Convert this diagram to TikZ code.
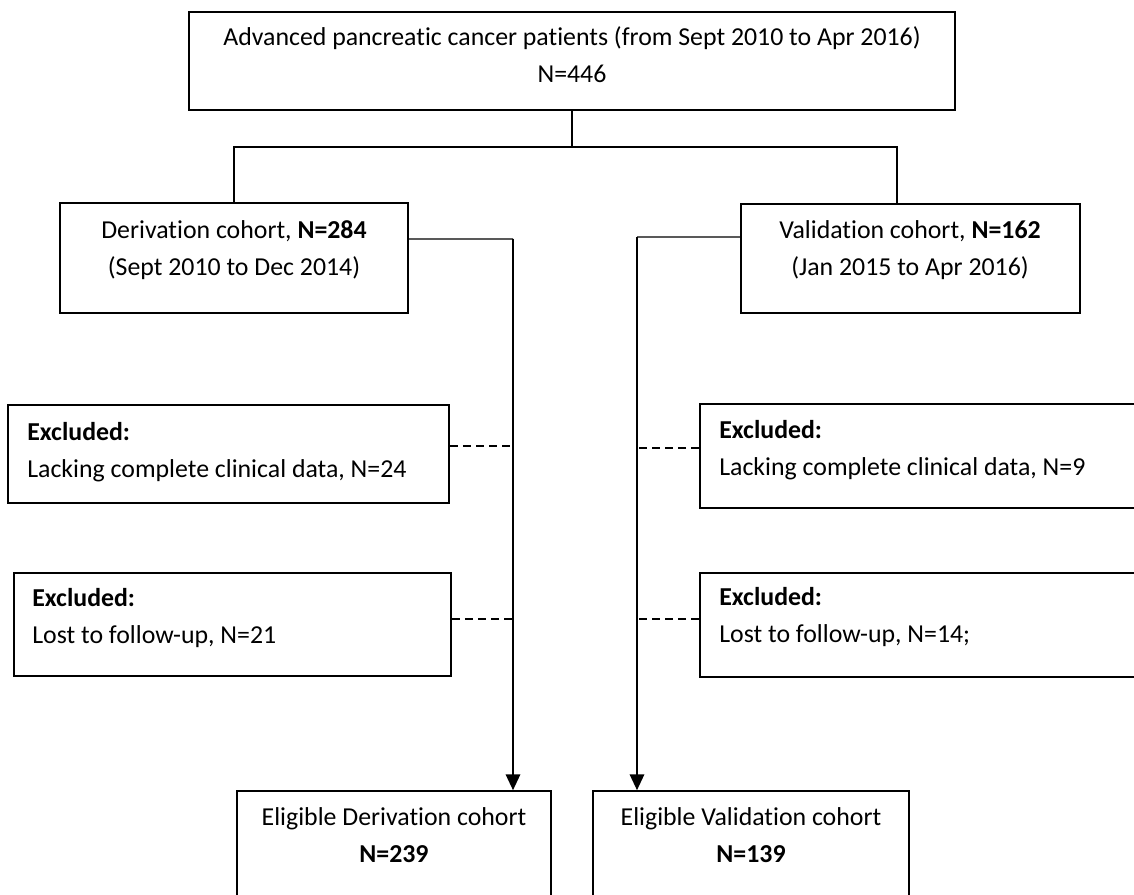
\documentclass[tikz,border=0pt]{standalone}
\usepackage{fontspec}
\setmainfont{Carlito}[Ligatures=NoCommon]
\usetikzlibrary{arrows.meta}

\newcommand{\pxu}{0.02cm}

\tikzset{
    box/.style={draw, line width=0.8pt, inner sep=0pt},
    txt/.style={inner sep=0pt, align=center, font=\fontsize{14.7}{21}\selectfont},
    txtl/.style={txt, align=left},
    link/.style={line width=0.8pt},
    flow/.style={line width=1.5pt, -{Triangle[length=9pt, width=8pt]}},
    skip/.style={line width=0.8pt, dash pattern=on 4.5pt off 3pt}
}

\begin{document}
\begin{tikzpicture}[x=\pxu, y=-\pxu]
        \useasboundingbox (0,0) rectangle (1134,894);
        \clip (0,0) rectangle (1134,894);
        % boxes
        \node[box, minimum width=766*\pxu, minimum height=98*\pxu] (all) at (572,61) {};
        \node[box, minimum width=348*\pxu, minimum height=110*\pxu] (deriv) at (234,258) {};
        \node[box, minimum width=339*\pxu, minimum height=109*\pxu] (valid) at (910.5,258.5) {};
        \node[box, minimum width=441*\pxu, minimum height=98*\pxu] (exd1) at (228.5,454) {};
        \node[box, minimum width=437*\pxu, minimum height=103*\pxu] (exd2) at (232.5,624.5) {};
        \node[box, minimum width=450*\pxu, minimum height=104*\pxu] (exv1) at (925,456) {};
        \node[box, minimum width=450*\pxu, minimum height=104*\pxu] (exv2) at (925,625) {};
        \node[box, minimum width=314*\pxu, minimum height=120*\pxu] (eligd) at (394,851) {};
        \node[box, minimum width=316*\pxu, minimum height=120*\pxu] (eligv) at (751,851) {};
        % texts (base = last line)
        \node[txt, anchor=base] (allt) at (572,82)
            {Advanced pancreatic cancer patients (from Sept 2010 to Apr 2016)\\N=446};
        \node[txt, anchor=base] (derivt) at (234,275)
            {Derivation cohort, \textbf{N=284}\\(Sept 2010 to Dec 2014)};
        \node[txt, anchor=base] (validt) at (910,275)
            {Validation cohort, \textbf{N=162}\\(Jan 2015 to Apr 2016)};
        \node[txtl, anchor=base west] (exd1t) at (27,477)
            {\textbf{Excluded:}\\Lacking complete clinical data, N=24};
        \node[txtl, anchor=base west] (exd2t) at (32,643)
            {\textbf{Excluded:}\\Lost to follow-up, N=21};
        \node[txtl, anchor=base west] (exv1t) at (719,475)
            {\textbf{Excluded:}\\Lacking complete clinical data, N=9};
        \node[txtl, anchor=base west] (exv2t) at (719,642)
            {\textbf{Excluded:}\\Lost to follow-up, N=14;};
        \node[txt, anchor=base] (eligdt) at (394,862)
            {Eligible Derivation cohort\\\textbf{N=239}};
        \node[txt, anchor=base] (eligvt) at (751,862)
            {Eligible Validation cohort\\\textbf{N=139}};
        % split
        \coordinate (split) at (572,147);
        \coordinate (vtop) at (897,204);
        \draw[link] (all.south) -- (split);
        \draw[link] (deriv.north) |- (split) -| (vtop);
        % flow down
        \coordinate (dturn) at (513,239);
        \coordinate (vturn) at (637,237);
        \draw[link] ([yshift=0.38cm]deriv.east) -- (dturn);
        \draw[link] ([yshift=0.43cm]valid.west) -- (vturn);
        \draw[flow] (dturn) -- (dturn |- eligd.north);
        \draw[flow] (vturn) -- (vturn |- eligv.north);
        % exclusions
        \draw[skip] ([yshift=0.16cm]exd1.east) -- ([yshift=0.16cm]exd1.east -| dturn);
        \draw[skip] ([yshift=0.11cm]exd2.east) -- ([yshift=0.11cm]exd2.east -| dturn);
        \draw[skip] ([yshift=0.16cm]exv1.west) -- ([yshift=0.16cm]exv1.west -| vturn);
        \draw[skip] ([yshift=0.12cm]exv2.west) -- ([yshift=0.12cm]exv2.west -| vturn);
    \end{tikzpicture}
\end{document}
